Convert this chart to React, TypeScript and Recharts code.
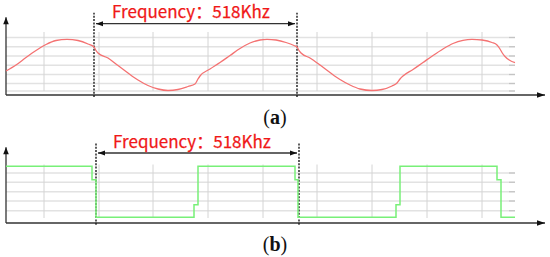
import React from "react";
import { LineChart, Line, XAxis, YAxis, ReferenceLine, ReferenceDot } from "recharts";

// (a) sine output: sample position t and level v
const sineT = [0, 10, 20, 30, 40, 50, 61, 72, 82, 88, 90, 92, 102, 112, 122, 132, 142, 152, 162, 172, 182, 189, 192, 194, 204, 214, 224, 234, 244, 254, 261, 270, 280, 288, 291, 293, 295, 304, 314, 324, 334, 344, 354, 366, 376, 386, 391, 394, 397, 407, 417, 427, 437, 447, 457, 466, 476, 486, 491, 494, 496, 499, 509];
const sineV = [24, 30, 37.5, 44.5, 50.5, 54.5, 55.7, 54.5, 51, 48, 44.5, 42, 37, 29.5, 22, 15, 9.5, 6, 4.5, 5.5, 8.5, 11, 16, 19, 26, 32.5, 39.5, 46.5, 52, 55, 55.7, 55, 52.5, 49.5, 48, 44.5, 42, 37, 30, 22.5, 15.5, 10, 6, 4.5, 5.5, 9, 12, 16, 19, 25.5, 32.5, 39.5, 46, 51.5, 54.7, 55.7, 55, 52.5, 50, 46, 42.5, 38.5, 32.3];

// (b) square output
const squareT = [0, 86, 86, 90, 90, 188, 188, 192, 192, 289, 289, 292, 292, 390, 390, 394, 394, 491, 491, 495, 495, 509];
const squareV = [56.7, 56.7, 43.3, 43.3, 5.7, 5.7, 18.3, 18.3, 56.7, 56.7, 43.3, 43.3, 5.7, 5.7, 18.3, 18.3, 56.7, 56.7, 43.3, 43.3, 5.7, 5.7];

// grid ticks
const gridT = [38, 93, 147, 202, 257, 311, 366, 421, 476];
const topGridV = [57.5, 48.3, 39, 29.7, 20.5, 11.5, 4];
const bottomGridV = [50, 40.7, 31.3, 22, 12.3];

// one period markers (518 kHz)
const topPeriodT = [88, 291];
const bottomPeriodT = [90, 293];
const freqLabel = "Frequency\uff1a518Khz";

const sineData = sineT.map((t, i) => ({ t, v: sineV[i] }));
const squareData = squareT.map((t, i) => ({ t, v: squareV[i] }));

const W = 550;
const H = 130;
const margin = { top: 5, right: 2, left: 6, bottom: 35 };
const X_MAX = 542;
const Y_MAX = 90;
const GRID_END = 509;

function head(tx: number, ty: number, fx: number, fy: number, len: number, w: number) {
  const dx = tx - fx;
  const dy = ty - fy;
  const l = Math.sqrt(dx * dx + dy * dy) || 1;
  const ux = dx / l;
  const uy = dy / l;
  const bx = tx - ux * len;
  const by = ty - uy * len;
  return `${tx},${ty} ${bx - uy * w},${by + ux * w} ${bx + uy * w},${by - ux * w}`;
}

const arrow = (both: boolean, len: number, w: number) => (p: any) => {
  const { x1, y1, x2, y2 } = p;
  return (
    <g>
      <line x1={x1} y1={y1} x2={x2} y2={y2} stroke="#333" strokeWidth={1.3} />
      <polygon points={head(x2, y2, x1, y1, len, w)} fill="#111" />
      {both && <polygon points={head(x1, y1, x2, y2, len, w)} fill="#111" />}
    </g>
  );
};

const freqText = (p: any) => (
  <text
    x={p.cx}
    y={p.cy}
    textAnchor="middle"
    fill="#f01818"
    stroke="#f01818"
    strokeWidth={0.25}
    fontSize={17}
    fontFamily="'Noto Sans CJK SC', 'Noto Sans', sans-serif"
  >
    {freqLabel}
  </text>
);

function Panel({
  data,
  color,
  width,
  type,
  gridV,
  gridTop,
  gridBottom,
  periodT,
  dashTop,
  dashBottom,
  arrowV,
  axisTop,
  textT,
  textV,
}: any) {
  return (
    <LineChart width={W} height={H} data={data} margin={margin}>
      <XAxis type="number" dataKey="t" domain={[0, X_MAX]} hide />
      <YAxis type="number" domain={[0, Y_MAX]} hide />
      {gridV.map((v: number) => (
        <ReferenceLine
          key={"h" + v}
          segment={[{ x: 0, y: v }, { x: GRID_END, y: v }]}
          stroke="#e2e2e2"
          strokeWidth={1.6}
          ifOverflow="visible"
        />
      ))}
      {gridV.map((v: number) => (
        <ReferenceLine
          key={"k" + v}
          segment={[{ x: GRID_END - 6, y: v }, { x: GRID_END, y: v }]}
          stroke="#c4c4c4"
          strokeWidth={1.2}
          ifOverflow="visible"
        />
      ))}
      {gridT.map((t: number) => (
        <ReferenceLine
          key={"v" + t}
          segment={[{ x: t, y: gridBottom }, { x: t, y: gridTop }]}
          stroke="#d4d4d4"
          strokeWidth={1}
          ifOverflow="visible"
        />
      ))}
      <ReferenceLine
        segment={[{ x: 0, y: 0 }, { x: 0, y: axisTop }]}
        shape={arrow(false, 7, 2.8)}
        ifOverflow="visible"
      />
      <ReferenceLine
        segment={[{ x: 0, y: 0 }, { x: 539, y: 0 }]}
        shape={arrow(false, 8, 2.8)}
        ifOverflow="visible"
      />
      {periodT.map((t: number) => (
        <ReferenceLine
          key={"d" + t}
          segment={[{ x: t, y: dashBottom }, { x: t, y: dashTop }]}
          stroke="#1a1a1a"
          strokeWidth={1.4}
          strokeDasharray="2 1.3"
          ifOverflow="visible"
        />
      ))}
      <ReferenceLine
        segment={[{ x: periodT[0] + 2, y: arrowV }, { x: periodT[1] - 2, y: arrowV }]}
        shape={arrow(true, 7, 2.5)}
        ifOverflow="visible"
      />
      <ReferenceDot x={textT} y={textV} r={1} shape={freqText} ifOverflow="visible" />
      <Line
        type={type}
        dataKey="v"
        stroke={color}
        strokeWidth={width}
        dot={false}
        activeDot={false}
        isAnimationActive={false}
      />
    </LineChart>
  );
}

const capStyle: React.CSSProperties = {
  position: "absolute",
  left: 0,
  width: W,
  textAlign: "center",
  fontFamily: "'Liberation Serif', serif",
  fontSize: 20,
  lineHeight: "20px",
  color: "#111",
};

export default function App() {
  return (
    <div
      style={{
        position: "absolute",
        left: 0,
        top: 0,
        width: W,
        height: 257,
        overflow: "hidden",
        background: "#fff",
      }}
    >
      <div style={{ position: "absolute", left: 0, top: 0 }}>
        <Panel
          data={sineData}
          color="#f47272"
          width={1.3}
          type="monotone"
          gridV={topGridV}
          gridTop={63}
          gridBottom={4}
          periodT={topPeriodT}
          dashTop={82.3}
          dashBottom={-2}
          arrowV={71.3}
          axisTop={77.7}
          textT={185}
          textV={77.5}
        />
      </div>
      <div style={{ position: "absolute", left: 0, top: 128 }}>
        <Panel
          data={squareData}
          color="#78f078"
          width={1.5}
          type="linear"
          gridV={bottomGridV}
          gridTop={58.5}
          gridBottom={5}
          periodT={bottomPeriodT}
          dashTop={80}
          dashBottom={-1.7}
          arrowV={70}
          axisTop={75.7}
          textT={186}
          textV={75.5}
        />
      </div>
      <div style={{ ...capStyle, top: 107 }}>
        (<b>a</b>)
      </div>
      <div style={{ ...capStyle, top: 234 }}>
        (<b>b</b>)
      </div>
    </div>
  );
}
